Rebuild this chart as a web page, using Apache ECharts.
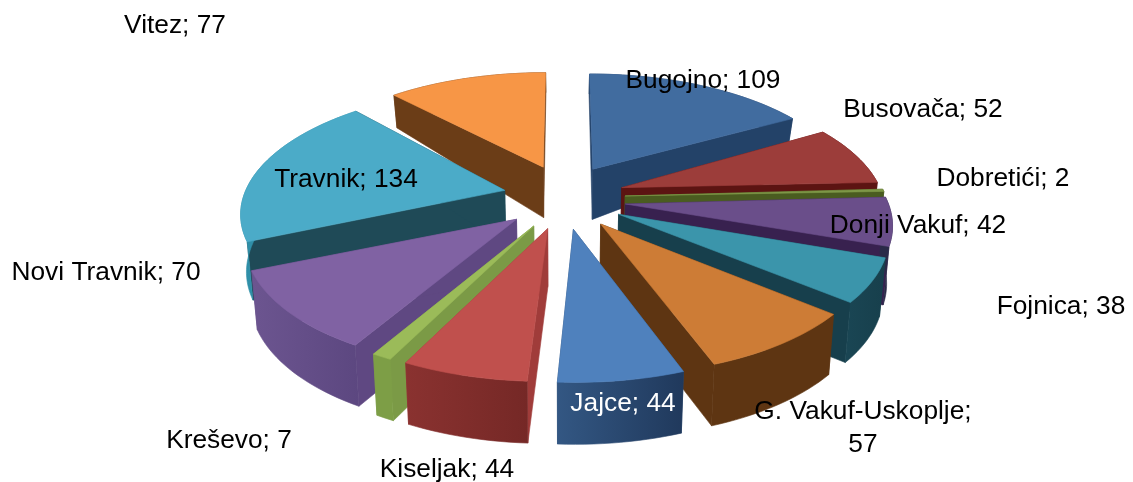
<!DOCTYPE html>
<html>
<head>
<meta charset="utf-8">
<style>html,body{margin:0;padding:0;background:#fff}#c{width:1133px;height:482px}</style>
<script src="https://cdn.jsdelivr.net/npm/echarts@6/dist/echarts.min.js"></script>
</head>
<body>
<div id="c"></div>
<script>
var categories = ['Bugojno','Busovača','Dobretići','Donji Vakuf','Fojnica','G. Vakuf-Uskoplje','Jajce','Kiseljak','Kreševo','Novi Travnik','Travnik','Vitez'];
var values = [109,52,2,42,38,57,44,44,7,70,134,77];
var labelText = ['Bugojno; 109','Busovača; 52','Dobretići; 2','Donji Vakuf; 42','Fojnica; 38','G. Vakuf-Uskoplje;\n57','Jajce; 44','Kiseljak; 44','Kreševo; 7','Novi Travnik; 70','Travnik; 134','Vitez; 77'];
var labelPos = [[703,81],[923,110],[1003,179],[918,226],[1061,307],[863,428],[623,404],[447,470],[229,441],[106,273],[346,180],[175,26]];
var labelColor = ['#000','#000','#000','#000','#000','#000','#fff','#000','#000','#000','#000','#000'];
var topColor = ['#416c9f','#9c3d3a','#7d9747','#6a4e8a','#3b95ab','#cd7c36','#4f81bd','#c0504d','#9bbb59','#8062a3','#4babc8','#f79646'];
var radialColor = ['#234268','#5c1412','#4a5c20','#38214f','#173f4c','#5e3512','#2b4b74','#a03c3a','#7b9a46','#5f4882','#1f4a57','#6b3d17'];
var outerA = ['#234268','#5c1412','#4a5c20','#2a2a48','#1a4654','#5e3512','#335783','#8a3230','#7d9e46','#6c5590','#2f8fa8','#6b3d17'];
var outerB = ['#234268','#5c1412','#4a5c20','#2a2a48','#173f4c','#5e3512','#20395c','#752826','#7d9e46','#5c4780','#2f8fa8','#6b3d17'];

var cx = 564, cy = 200, Rx = 262, Ry = 122.3, k = 0.141, explode = 0.235;
var total = values.reduce(function (a, b) { return a + b; }, 0);
var starts = [], acc = 0;
values.forEach(function (v) { starts.push(acc / total * 2 * Math.PI); acc += v; });

function project(X, Y) {
  var d = 1 + k * Y;
  return [cx + Rx * X / d, cy - Ry * Y / d];
}
function wallHeight(X, Y) {
  return Y > 0 ? Math.max(20, 57 - 31 * Y - 8 * X * Math.min(1, Y * 2)) : 57 - 4 * Y;
}
function toBottom(p, X, Y) {
  return [cx + (p[0] - cx) * 0.982, p[1] + wallHeight(X, Y)];
}
function sliceGeom(i) {
  var a0 = starts[i], a1 = a0 + values[i] / total * 2 * Math.PI, m = (a0 + a1) / 2;
  var ox = explode * Math.sin(m), oy = explode * Math.cos(m);
  var n = Math.max(2, Math.ceil((a1 - a0) / 0.03));
  var arcTop = [], arcBot = [];
  for (var j = 0; j <= n; j++) {
    var a = a0 + (a1 - a0) * j / n;
    var X = ox + Math.sin(a), Y = oy + Math.cos(a);
    var p = project(X, Y);
    arcTop.push(p);
    arcBot.push(toBottom(p, X, Y));
  }
  var tipY = oy > 0 ? oy * 1.2 + 0.015 : oy;
  var tip = project(ox, tipY), tipB = toBottom(tip, ox, oy);
  return { tip: tip, tipB: tipB, arcTop: arcTop, arcBot: arcBot, oy: oy };
}
function poly(points, fill, z2) {
  return { type: 'polygon', z2: z2, shape: { points: points },
    style: { fill: fill, stroke: fill, lineWidth: 0.6 } };
}
function renderSlice(params, api) {
  var i = api.value(2);
  var g = sliceGeom(i);
  var n = g.arcTop.length - 1;
  var order = api.value(3) * 10;
  var outer = g.arcTop.concat(g.arcBot.slice().reverse());
  var grad = new echarts.graphic.LinearGradient(0, 0, 1, 0, [
    { offset: 0, color: outerA[i] }, { offset: 1, color: outerB[i] }]);
  var children = [
    poly([g.arcTop[0], g.tip, g.tipB, g.arcBot[0]], radialColor[i], order),
    poly([g.arcTop[n], g.tip, g.tipB, g.arcBot[n]], radialColor[i], order),
    poly(outer, grad, order + 1),
    poly([g.tip].concat(g.arcTop), topColor[i], order + 2)
  ];
  return { type: 'group', children: children };
}
function renderLabel(params, api) {
  var i = api.value(0);
  return { type: 'text', z2: 1000, x: labelPos[i][0], y: labelPos[i][1],
    style: { text: labelText[i], fill: labelColor[i], fontFamily: '"Liberation Sans", Arial, sans-serif',
      fontSize: 26.3, align: 'center', verticalAlign: 'middle', lineHeight: 33 } };
}

// painter's order: far slices first
var ids = values.map(function (v, i) { return i; });
var painter = ids.slice().sort(function (a, b) { return sliceGeom(b).oy - sliceGeom(a).oy; });
var sliceData = painter.map(function (i, rank) { return [values[i], categories[i], i, rank]; });

var chart = echarts.init(document.getElementById('c'), null, { renderer: 'canvas' });
chart.setOption({
  animation: false,
  backgroundColor: '#ffffff',
  series: [
    { type: 'custom', coordinateSystem: 'none', silent: true, z: 1, data: sliceData,
      encode: { value: 0 }, renderItem: renderSlice },
    { type: 'custom', coordinateSystem: 'none', silent: true, z: 2, data: ids.map(function (i) { return [i]; }),
      renderItem: renderLabel }
  ]
});
</script>
</body>
</html>
